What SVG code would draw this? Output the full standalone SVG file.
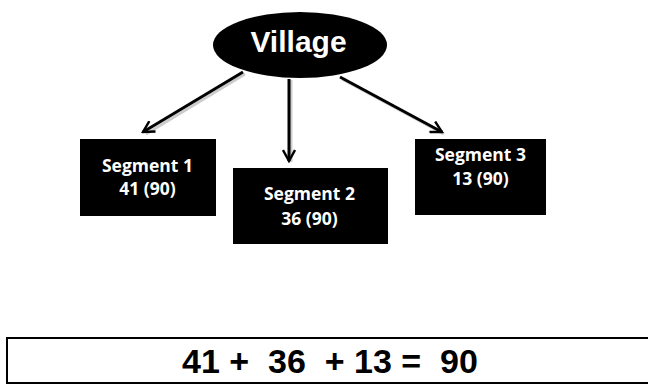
<svg xmlns="http://www.w3.org/2000/svg" width="648" height="386" viewBox="0 0 648 386">
<style>
.box{fill:#000}
.lbl{font-family:"Open Sans","Liberation Sans",sans-serif;font-weight:bold;font-size:17.5px;fill:#fff;text-anchor:middle}
.edge{stroke:#000;stroke-width:3;fill:none}
.shadow{stroke:#aaa;stroke-width:3;fill:none;opacity:0.6}
</style>
<defs>
<marker id="ah" viewBox="0 0 14 14" refX="12" refY="7" markerWidth="14" markerHeight="14" markerUnits="userSpaceOnUse" orient="auto">
<path d="M1,1 L12,7 L1,13" fill="none" stroke="#000" stroke-width="2.4"/>
</marker>
</defs>
<rect width="648" height="386" fill="#fff"/>
<g id="connectors">
<line class="shadow" x1="245" y1="74" x2="146" y2="134"/>
<line class="shadow" x1="291" y1="80" x2="291" y2="162"/>
<line class="shadow" x1="342" y1="79" x2="444" y2="134"/>
<line class="edge" x1="243" y1="72" x2="143" y2="132" marker-end="url(#ah)"/>
<line class="edge" x1="289" y1="79" x2="289" y2="161" marker-end="url(#ah)"/>
<line class="edge" x1="340" y1="77" x2="442" y2="132" marker-end="url(#ah)"/>
</g>
<g id="village">
<ellipse cx="300" cy="45" rx="87" ry="33" fill="#000"/>
<text x="298.5" y="52" font-family="'Liberation Sans',Arial,sans-serif" font-weight="bold" font-size="30" fill="#fff" text-anchor="middle">Village</text>
</g>
<g id="segment1">
<rect class="box" x="80" y="139" width="136" height="77"/>
<text class="lbl" x="147.5" y="172">Segment 1</text>
<text class="lbl" x="147.5" y="195">41 (90)</text>
</g>
<g id="segment2">
<rect class="box" x="233" y="168" width="155" height="76"/>
<text class="lbl" x="309.5" y="200">Segment 2</text>
<text class="lbl" x="309.5" y="225">36 (90)</text>
</g>
<g id="segment3">
<rect class="box" x="415" y="139" width="131" height="76"/>
<text class="lbl" x="480.5" y="161">Segment 3</text>
<text class="lbl" x="480.5" y="185">13 (90)</text>
</g>
<g id="equation">
<rect x="7" y="338" width="660" height="45" fill="#fff" stroke="#000" stroke-width="2"/>
<text x="330" y="373" font-family="'Liberation Sans',Arial,sans-serif" font-weight="bold" font-size="34" fill="#000" text-anchor="middle" xml:space="preserve">41 +  36  + 13 =  90</text>
</g>
</svg>
